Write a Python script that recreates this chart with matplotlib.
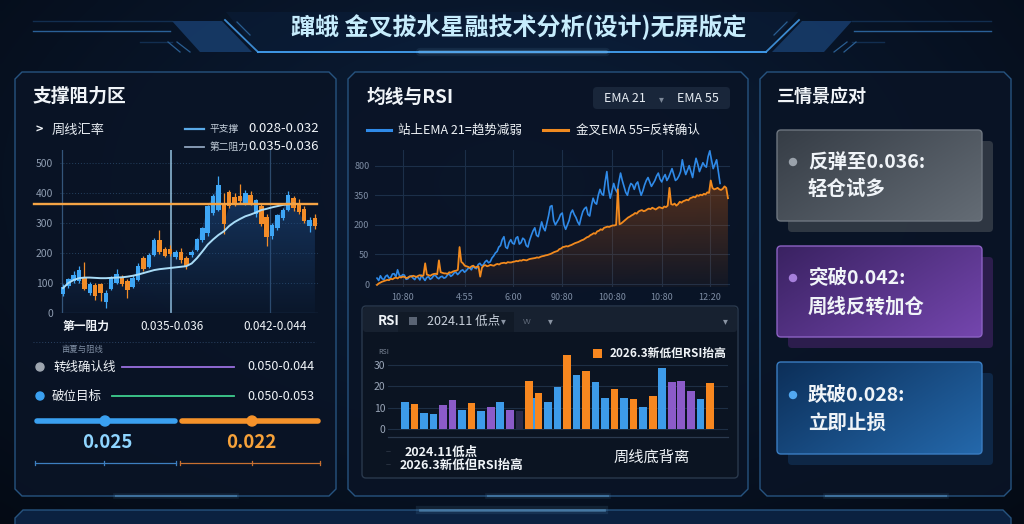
import numpy as np
import matplotlib
matplotlib.use("Agg")
import matplotlib.pyplot as plt
from matplotlib.patches import Polygon, FancyBboxPatch, Circle, Rectangle
from matplotlib.colors import to_rgba

plt.rcParams['font.family'] = ['Noto Sans CJK SC', 'DejaVu Sans']

# ---------------- data ----------------
title = "蹿蛾 金叉拔水星融技术分析(设计)无屏版定"

# weekly candles (left panel)
c_open  = [62, 89, 106, 107, 118, 67, 93, 95, 37, 81, 100, 117, 107, 87, 109, 182, 154, 193, 243, 212,
           212, 187, 202, 184, 193, 210, 243, 268, 333, 344, 360, 402, 386, 390, 366, 394, 330, 357, 321, 257,
           282, 316, 344, 383, 366, 346, 290, 316]
c_high  = [98, 118, 140, 155, 171, 104, 100, 100, 75, 122, 145, 128, 112, 125, 165, 190, 200, 250, 277, 220,
           225, 210, 215, 190, 210, 250, 285, 360, 395, 457, 400, 410, 400, 430, 410, 405, 380, 362, 330, 300,
           330, 350, 405, 390, 380, 355, 320, 330]
c_low   = [58, 82, 100, 100, 75, 60, 42, 40, 18, 76, 95, 90, 50, 82, 105, 140, 150, 190, 195, 185,
           190, 180, 165, 145, 185, 205, 238, 255, 325, 340, 264, 350, 355, 365, 360, 360, 320, 290, 224, 245,
           275, 310, 340, 340, 330, 300, 270, 280]
c_close = [87, 112, 126, 143, 81, 98, 56, 65, 67, 115, 130, 98, 78, 118, 156, 146, 193, 243, 204, 190,
           195, 204, 176, 156, 204, 245, 282, 357, 390, 427, 297, 355, 360, 372, 400, 368, 375, 297, 252, 294,
           325, 344, 394, 349, 335, 305, 310, 290]
ma_vals = [83, 100, 110, 116, 118, 118, 117, 116, 116, 117, 118, 119, 121, 124, 128, 133, 138, 143, 146, 148,
           150, 152, 154, 156, 165, 183, 205, 228, 245, 260, 272, 290, 303, 313, 322, 328, 335, 343, 347, 352,
           356, 360, 362, 364]
resist_level = 362
candle_yticks = [0, 100, 200, 300, 400, 500]

# EMA lines (middle panel)
ema21 = [20, 12, 28, 18, 15, 26, 30, 20, 22, 34,
         35, 24, 48, 30, 25, 32, 30, 16, 18, 25,
         28, 20, 15, 25, 22, 14, 30, 20, 12, 22,
         25, 16, 20, 28, 30, 22, 18, 24, 26, 20,
         22, 30, 35, 26, 30, 38, 40, 32, 38, 45,
         48, 40, 45, 52, 55, 48, 60, 55, 52, 66,
         70, 62, 65, 75, 80, 72, 75, 88, 95, 105,
         110, 125, 130, 150, 160, 125, 120, 140, 150, 138,
         135, 155, 160, 135, 140, 155, 150, 130, 125, 148,
         165, 180, 190, 165, 160, 185, 210, 190, 180, 205,
         230, 262, 265, 215, 200, 210, 220, 235, 240, 200,
         185, 200, 215, 240, 250, 235, 225, 210, 200, 225,
         245, 255, 260, 235, 230, 265, 290, 275, 270, 300,
         320, 305, 300, 345, 380, 320, 290, 315, 340, 320,
         310, 345, 375, 350, 330, 310, 300, 325, 340, 335,
         320, 338, 345, 320, 300, 315, 335, 350, 360, 345,
         330, 340, 350, 365, 375, 355, 345, 360, 370, 350,
         360, 375, 390, 370, 350, 355, 365, 380, 420, 390,
         370, 385, 400, 380, 360, 395, 425, 405, 380, 395,
         410, 400, 395, 430, 450, 420, 390, 405, 420, 380, 340]
ema55 = [-3, 2, 5, 8, 10, 12, 14, 13, 18, 16,
         20, 22, 19, 24, 22, 25, 24, 20, 22, 26,
         25, 28, 26, 24, 28, 30, 27, 29, 70, 32,
         30, 28, 32, 34, 35, 33, 80, 40, 38, 36,
         36, 34, 40, 38, 42, 44, 45, 48, 125, 75,
         70, 62, 60, 58, 55, 60, 62, 56, 58, 60,
         25, 55, 62, 64, 60, 62, 65, 63, 62, 66,
         68, 66, 70, 71, 72, 70, 74, 73, 73, 75,
         76, 78, 77, 80, 79, 82, 81, 80, 83, 85,
         86, 87, 88, 90, 89, 92, 94, 95, 97, 98,
         100, 102, 105, 108, 110, 112, 118, 120, 125, 126,
         128, 127, 130, 132, 135, 138, 140, 142, 145, 148,
         150, 154, 158, 160, 165, 168, 172, 170, 178, 180,
         185, 183, 190, 192, 194, 193, 196, 198, 198, 200,
         320, 202, 205, 210, 215, 220, 225, 228, 232, 235,
         240, 238, 245, 248, 250, 246, 248, 252, 255, 253,
         258, 255, 252, 256, 260, 258, 256, 262, 260, 265,
         325, 270, 268, 272, 265, 270, 278, 275, 280, 282,
         285, 283, 290, 292, 295, 293, 300, 298, 302, 300,
         305, 303, 310, 308, 350, 325, 320, 322, 325, 320,
         318, 322, 330, 325, 290]
ema_ytick_values = [0, 100, 200, 300, 400]
ema_ytick_labels = ["0", "50", "200", "350", "800"]
ema_xtick_labels = ["10:80", "4:55", "6:00", "90:80", "100:80", "10:80", "12:20"]

# RSI bars
rsi_vals = [12.6, 11.8, 7.3, 6.8, 11.3, 13.6, 9.0, 12.2, 8.5, 10.1, 12.6, 9.0, 8.5, 22.2, 16.6, 12.7, 19.4,
            34.6, 25.0, 26.8, 21.8, 14.4, 18.6, 14.6, 14.0, 10.3, 15.3, 28.2, 22.0, 22.2, 17.5, 14.0, 21.6]
rsi_kinds = ['b', 'o', 'b', 'b', 'p', 'p', 'b', 'o', 'b', 'p', 'b', 'p', 'd', 'o', 'o', 'b', 'b',
             'o', 'b', 'o', 'b', 'b', 'o', 'b', 'o', 'b', 'o', 'b', 'p', 'p', 'p', 'b', 'o']
rsi_mid_val = 14.4
rsi_yticks = [0, 10, 20, 30]

# ---------------- figure ----------------
W, H = 1024, 524
fig = plt.figure(figsize=(W / 100, H / 100), dpi=100)
fig.patch.set_facecolor('#050c18')

bg = fig.add_axes([0, 0, 1, 1])
bg.set_xlim(0, W)
bg.set_ylim(H, 0)
bg.axis('off')


def fx(x0, y0, x1, y1):
    return [x0 / W, 1 - y1 / H, (x1 - x0) / W, (y1 - y0) / H]


def grad_img(c0, c1, n=64):
    t = np.linspace(0, 1, n)
    tx, ty = np.meshgrid(t, t)
    f = tx * 0.6 + ty * 0.4
    a = np.array(to_rgba(c0))
    b = np.array(to_rgba(c1))
    return a[None, None, :] * (1 - f[..., None]) + b[None, None, :] * f[..., None]


# background
ny, nx = 131, 256
yy, xx = np.mgrid[0:1:ny * 1j, 0:1:nx * 1j]
d = np.clip(np.sqrt(((xx - 0.5) / 0.75) ** 2 + ((yy - 0.35) / 0.9) ** 2), 0, 1)
cin = np.array(to_rgba('#0c1f3b'))[:3]
cout = np.array(to_rgba('#040a14'))[:3]
bgimg = cin * (1 - d[..., None]) + cout * d[..., None]
bg.imshow(bgimg, extent=(0, W, H, 0), aspect='auto', zorder=0, interpolation='bilinear')

# title banner
bg.add_patch(Polygon([(226, 12), (798, 12), (766, 52), (258, 52)], closed=True,
                     fc=(0.05, 0.14, 0.27, 0.35), ec='none', zorder=1))
for sx in (1, -1):
    def X(x):
        return x if sx == 1 else 1024 - x
    bg.add_patch(Polygon([(X(172), 21), (X(222), 21), (X(252), 52), (X(200), 52)], closed=True,
                         fc=(0.09, 0.23, 0.41, 0.9), ec='none', zorder=1))
    bg.plot([X(225), X(258)], [20, 52], color='#3c8ad0', lw=1.3, zorder=2)
    bg.plot([X(237), X(250)], [22, 35], color='#2a5e92', lw=0.9, zorder=2)
    bg.plot([X(168), X(180)], [42, 52], color='#2a5e92', lw=0.9, zorder=2)
    bg.plot([X(177), X(190)], [42, 52], color='#2a5e92', lw=0.9, zorder=2)
    bg.plot([X(33), X(170)], [31, 31], color='#2f6aa5', lw=1.0, alpha=0.9, zorder=1)
    bg.plot([X(33), X(172)], [21, 21], color='#16365c', lw=1.0, alpha=0.8, zorder=1)
    bg.plot([X(140), X(172)], [42, 42], color='#16365c', lw=1.0, alpha=0.8, zorder=1)
bg.plot([258, 766], [52, 52], color='#3f98e6', lw=1.4, zorder=2)
for lw, al in [(6, 0.08), (3, 0.2)]:
    bg.plot([420, 606], [52, 52], color='#8fd0ff', lw=lw, alpha=al, zorder=2, solid_capstyle='round')
bg.text(519, 27, title, ha='center', va='center', size=17.3, weight='bold', color='#c6ecfc', zorder=5)


def chamfer(x0, y0, x1, y1, c):
    return [(x0 + c, y0), (x1 - c, y0), (x1, y0 + c), (x1, y1 - c), (x1 - c, y1),
            (x0 + c, y1), (x0, y1 - c), (x0, y0 + c)]


def panel(x0, y0, x1, y1, c=7):
    bg.add_patch(Polygon(chamfer(x0, y0, x1, y1, c), closed=True, fc=(0.04, 0.08, 0.15, 0.88),
                         ec='#26537f', lw=1.0, zorder=1))
    xm = (x0 + x1) / 2
    for lw, al in [(4, 0.10), (1.5, 0.35)]:
        bg.plot([xm - 60, xm + 60], [y1, y1], color='#6fb8f0', lw=lw, alpha=al, zorder=1.5)


panel(15, 72, 336, 496)
panel(348, 72, 748, 496)
panel(760, 72, 1011, 496)
# bottom band panel (cut off)
bg.add_patch(Polygon([(23, 510), (1003, 510), (1011, 518), (1011, 530), (15, 530), (15, 518)], closed=True,
                     fc='#0b2140', ec='#26537f', lw=1.0, zorder=1))
for lw, al in [(6, 0.10), (2, 0.35)]:
    bg.plot([420, 604], [510, 510], color='#7fc4f5', lw=lw, alpha=al, zorder=1.5)

TXT = '#f0f4f8'

# ---------------- left panel ----------------
bg.text(33, 96, "支撑阻力区", size=13.5, weight='bold', color=TXT, va='center', zorder=5)
bg.text(36, 130, ">", size=9, weight='bold', color=TXT, va='center', zorder=5)
bg.text(52, 130, "周线汇率", size=9.5, color='#e6ebf1', va='center', zorder=5)
bg.plot([185, 204], [129, 129], color='#5aaae8', lw=1.6, zorder=5)
bg.text(210, 129, "平支撑", size=7, color='#c4cfdb', va='center', zorder=5)
bg.text(248, 129, "0.028-0.032", size=9.5, color=TXT, va='center', zorder=5)
bg.plot([185, 204], [147, 147], color='#8ea4bd', lw=1.3, zorder=5)
bg.text(210, 147, "第二阻力", size=7, color='#c4cfdb', va='center', zorder=5)
bg.text(248, 147, "0.035-0.036", size=9.5, color=TXT, va='center', zorder=5)

axc = fig.add_axes(fx(60, 150, 318, 313))
axc.patch.set_alpha(0)
n = len(c_open)
ix = np.arange(n)
for v in candle_yticks[1:]:
    axc.axhline(v, color='#24405f', lw=0.7, ls=(0, (1, 2)), zorder=1)
fb = axc.fill_between(ix, c_close, 0, color='none', lw=0)
fimg = np.zeros((100, 1, 4))
fimg[..., 0] = 0.13
fimg[..., 1] = 0.32
fimg[..., 2] = 0.56
fimg[:, 0, 3] = np.linspace(0.6, 0.05, 100)
im = axc.imshow(fimg, extent=(-0.56, 47.57, 0, 470), aspect='auto', zorder=2, interpolation='bilinear')
im.set_clip_path(fb.get_paths()[0], axc.transData)
up_col, dn_col = '#3ea6f5', '#f28c28'
cols = [up_col if c >= o else dn_col for o, c in zip(c_open, c_close)]
bots = [min(o, c) for o, c in zip(c_open, c_close)]
hts = [max(abs(c - o), 3) for o, c in zip(c_open, c_close)]
axc.vlines(ix, c_low, c_high, colors=cols, lw=0.9, zorder=3)
axc.bar(ix, hts, bottom=bots, width=0.84, color=cols, lw=0, zorder=4)
axc.plot(np.arange(len(ma_vals)), ma_vals, color='#a9dcf7', lw=1.4, zorder=5)
axc.axvline(-0.2, color='#34557a', lw=0.9, zorder=1)
axc.axvline(20.15, color='#a5d6f5', lw=1.1, alpha=0.9, zorder=1)
axc.axvline(38.6, color='#2c4a6c', lw=0.9, zorder=1)
axc.axhline(0, color='#2c4a6c', lw=0.9, zorder=1)
axc.plot([-5.4, 47.4], [resist_level, resist_level], color='#f5a445', lw=1.7, clip_on=False, zorder=6)
axc.set_xlim(-0.56, 47.57)
axc.set_ylim(0, 543)
axc.set_yticks(candle_yticks)
axc.set_xticks([])
axc.tick_params(axis='y', length=0, labelsize=7.5, labelcolor='#8e9cb0', pad=5)
for s in axc.spines.values():
    s.set_visible(False)

bg.text(63, 326, "第一阻力", size=8.5, weight='bold', color=TXT, va='center', zorder=5)
bg.text(172, 326, "0.035-0.036", size=8.5, color=TXT, va='center', ha='center', zorder=5)
bg.text(275, 326, "0.042-0.044", size=8.5, color=TXT, va='center', ha='center', zorder=5)
bg.plot([33, 316], [342, 342], color='#2a4262', lw=0.7, ls=(0, (1, 2)), zorder=5)
bg.text(62, 349, "亩夏与阻线", size=6, color='#7f8ea3', va='center', zorder=5)
bg.add_patch(Circle((40, 367), 4, color='#9ea6b0', zorder=5))
bg.text(53, 367, "转线确认线", size=9, color=TXT, va='center', zorder=5)
bg.plot([122, 234], [367, 367], color='#9a6fe0', lw=1.3, zorder=5)
bg.text(314, 367, "0.050-0.044", size=9, color=TXT, va='center', ha='right', zorder=5)
bg.add_patch(Circle((40, 396), 4, color='#3aa0f0', zorder=5))
bg.text(52, 396, "破位目标", size=9, color=TXT, va='center', zorder=5)
bg.plot([112, 234], [396, 396], color='#3fcf8f', lw=1.3, zorder=5)
bg.text(314, 396, "0.050-0.053", size=9, color=TXT, va='center', ha='right', zorder=5)
bg.plot([37, 175], [421, 421], color='#3aa0f0', lw=4, solid_capstyle='round', zorder=5)
bg.add_patch(Circle((105, 421), 5, color='#3aa0f0', zorder=6))
bg.plot([182, 318], [421, 421], color='#f5922a', lw=4, solid_capstyle='round', zorder=5)
bg.add_patch(Circle((252, 421), 5, color='#f5922a', zorder=6))
bg.text(107, 442, "0.025", size=13.5, weight='bold', color='#8fd5ff', va='center', ha='center', zorder=5)
bg.text(251, 442, "0.022", size=13.5, weight='bold', color='#f7a23a', va='center', ha='center', zorder=5)
bg.plot([35, 176], [463, 463], color='#3d7fc0', lw=0.9, zorder=5)
bg.plot([180, 320], [463, 463], color='#c87030', lw=0.9, zorder=5)
for xt, cc in [(35, '#3d7fc0'), (104, '#3d7fc0'), (176, '#3d7fc0'), (180, '#c87030'), (252, '#c87030'), (320, '#c87030')]:
    bg.plot([xt, xt], [461, 465], color=cc, lw=0.9, zorder=5)

# ---------------- middle panel ----------------
bg.text(366, 97, "均线与RSI", size=13.5, weight='bold', color=TXT, va='center', zorder=5)
bg.add_patch(FancyBboxPatch((593, 87), 137, 22, boxstyle="round,pad=0,rounding_size=4",
                            fc='#19263a', ec='none', zorder=3))
bg.text(625, 98, "EMA 21", size=9, color='#e6ecf2', va='center', ha='center', zorder=5)
bg.text(661, 99, "▾", size=7, color='#7c8898', va='center', ha='center', zorder=5)
bg.text(698, 98, "EMA 55", size=9, color='#e6ecf2', va='center', ha='center', zorder=5)
bg.plot([367, 391], [130, 130], color='#2f8ae8', lw=2.2, zorder=5)
bg.text(398, 130, "站上EMA 21=趋势减弱", size=9, color=TXT, va='center', zorder=5)
bg.plot([543, 568], [130, 130], color='#f08a20', lw=2.2, zorder=5)
bg.text(576, 130, "金叉EMA 55=反转确认", size=9, color=TXT, va='center', zorder=5)

axe = fig.add_axes(fx(375, 150, 730, 287))
axe.patch.set_alpha(0)
ema_xticks = [7.6, 25.7, 39.7, 53.9, 68.5, 83.1, 97.1]
for v in ema_ytick_values:
    axe.axhline(v, color='#1c2f49', lw=0.8, zorder=1)
for v in ema_xticks:
    axe.axvline(v, color='#1c2f49', lw=0.8, zorder=1)
xb = np.linspace(0, 100, len(ema21))
xo = np.linspace(0, 102.3, len(ema55))
fo = axe.fill_between(xo, ema55, -10, color='none', lw=0)
oimg = np.zeros((100, 1, 4))
oimg[..., 0] = 0.62
oimg[..., 1] = 0.30
oimg[..., 2] = 0.08
oimg[:, 0, 3] = np.linspace(0.5, 0.06, 100)
im2 = axe.imshow(oimg, extent=(-0.58, 102.9, -10, 360), aspect='auto', zorder=2, interpolation='bilinear')
im2.set_clip_path(fo.get_paths()[0], axe.transData)
axe.plot(xb, ema21, color='#2f8ae8', lw=1.2, zorder=3)
axe.plot(xo, ema55, color='#f28a1e', lw=1.3, zorder=4)
axe.set_xlim(-0.58, 102.9)
axe.set_ylim(-10, 453)
axe.set_yticks(ema_ytick_values)
axe.set_yticklabels(ema_ytick_labels)
axe.set_xticks(ema_xticks)
axe.set_xticklabels(ema_xtick_labels)
axe.tick_params(axis='y', length=0, labelsize=6.5, labelcolor='#7d8ca3', pad=4)
axe.tick_params(axis='x', length=0, labelsize=6.5, labelcolor='#7d8ca3', pad=4)
for s in axe.spines.values():
    s.set_visible(False)

# RSI box
bg.add_patch(FancyBboxPatch((362, 306), 376, 172, boxstyle="round,pad=0,rounding_size=4",
                            fc='#0b1422', ec='#2a394d', lw=1.0, zorder=2))
bg.add_patch(FancyBboxPatch((363, 307), 374, 25, boxstyle="round,pad=0,rounding_size=3",
                            fc='#172130', ec='none', zorder=2.5))
bg.add_patch(Rectangle((398, 312), 116, 20, fc='#111a27', ec='none', zorder=2.6))
bg.text(378, 321, "RSI", size=9.5, weight='bold', color=TXT, va='center', zorder=5)
bg.add_patch(Rectangle((409, 317), 8, 8, fc='#5a6474', ec='none', zorder=5))
bg.text(427, 321, "2024.11 低点", size=9, color='#c9d1dc', va='center', zorder=5)
bg.text(503, 321, "▾", size=7, color='#8a94a3', va='center', ha='center', zorder=5)
bg.text(523, 321, "vv", size=6, color='#5e6878', va='center', zorder=5)
bg.text(550, 321, "▾", size=7, color='#8a94a3', va='center', ha='center', zorder=5)
bg.text(725, 321, "▾", size=7, color='#8a94a3', va='center', ha='center', zorder=5)
bg.text(378, 352, "RSI", size=5, color='#7d8899', va='center', zorder=5)
bg.add_patch(Rectangle((593, 349), 9, 9, fc='#f7871f', ec='none', zorder=5))
bg.text(610, 353, "2026.3新低但RSI抬高", size=8.5, weight='bold', color=TXT, va='center', zorder=5)

axr = fig.add_axes(fx(388, 342, 728, 432))
axr.patch.set_alpha(0)
kc = {'b': '#3d9be9', 'o': '#f7871f', 'p': '#8b5bc9', 'd': '#2b2b4a'}
for v in rsi_yticks:
    axr.axhline(v, color='#1e2f45', lw=0.8, zorder=1)
axr.bar([13.55], [rsi_mid_val], width=0.4, color=kc['b'], lw=0, zorder=2)
axr.bar(np.arange(len(rsi_vals)), rsi_vals, width=0.8, color=[kc[k] for k in rsi_kinds], lw=0, zorder=3)
axr.set_xlim(-1.78, 33.9)
axr.set_ylim(-1.4, 40.5)
axr.set_yticks(rsi_yticks)
axr.set_xticks([])
axr.tick_params(axis='y', length=0, labelsize=7.5, labelcolor='#9aa6b8', pad=2)
for s in axr.spines.values():
    s.set_visible(False)
bg.plot([388, 728], [437, 437], color='#2b3a4f', lw=0.9, zorder=3)
bg.text(386, 452, "—", size=4, color='#5a6474', va='center', zorder=5)
bg.text(386, 465, "—", size=4, color='#5a6474', va='center', zorder=5)
bg.text(405, 452, "2024.11低点", size=9, weight='bold', color=TXT, va='center', zorder=5)
bg.text(400, 465, "2026.3新低但RSI抬高", size=9, weight='bold', color=TXT, va='center', zorder=5)
bg.text(652, 457, "周线底背离", size=11, color='#eef2f6', va='center', ha='center', zorder=5)

# ---------------- right panel ----------------
bg.text(777, 96, "三情景应对", size=13, weight='bold', color=TXT, va='center', zorder=5)


def card(y0, y1, c0, c1, ec, shadow, dot, line1, line2, ly1, ly2):
    bg.add_patch(FancyBboxPatch((788, y0 + 11), 205, (y1 - y0), boxstyle="round,pad=0,rounding_size=4",
                                fc=shadow, ec='none', zorder=3))
    p = FancyBboxPatch((777, y0), 205, (y1 - y0), boxstyle="round,pad=0,rounding_size=4",
                       fc='none', ec=ec, lw=1.0, zorder=4.2)
    bg.add_patch(p)
    imc = bg.imshow(grad_img(c0, c1), extent=(777, 982, y1, y0), aspect='auto', zorder=4,
                    interpolation='bilinear')
    imc.set_clip_path(p)
    bg.add_patch(Circle((793, ly1), 3.5, color=dot, zorder=5))
    bg.text(808, ly1, line1, size=14, weight='bold', color=TXT, va='center', zorder=5)
    bg.text(808, ly2, line2, size=14, weight='bold', color=TXT, va='center', zorder=5)


card(130, 221, '#363d46', '#646c75', '#6e7680', (0.22, 0.25, 0.29, 0.8), '#9aa2ab',
     "反弹至0.036:", "轻仓试多", 162, 189)
card(246, 337, '#3a2262', '#7446ae', '#8c62c4', (0.20, 0.12, 0.33, 0.85), '#a67fdc',
     "突破0.042:", "周线反转加仓", 278, 307)
card(362, 454, '#0c2f59', '#2468ab', '#3a7dc2', (0.06, 0.17, 0.30, 0.85), '#52a8f0',
     "跌破0.028:", "立即止损", 395, 423)

bg.set_xlim(0, W)
bg.set_ylim(H, 0)
fig.savefig("out.png", dpi=100, facecolor=fig.get_facecolor())
